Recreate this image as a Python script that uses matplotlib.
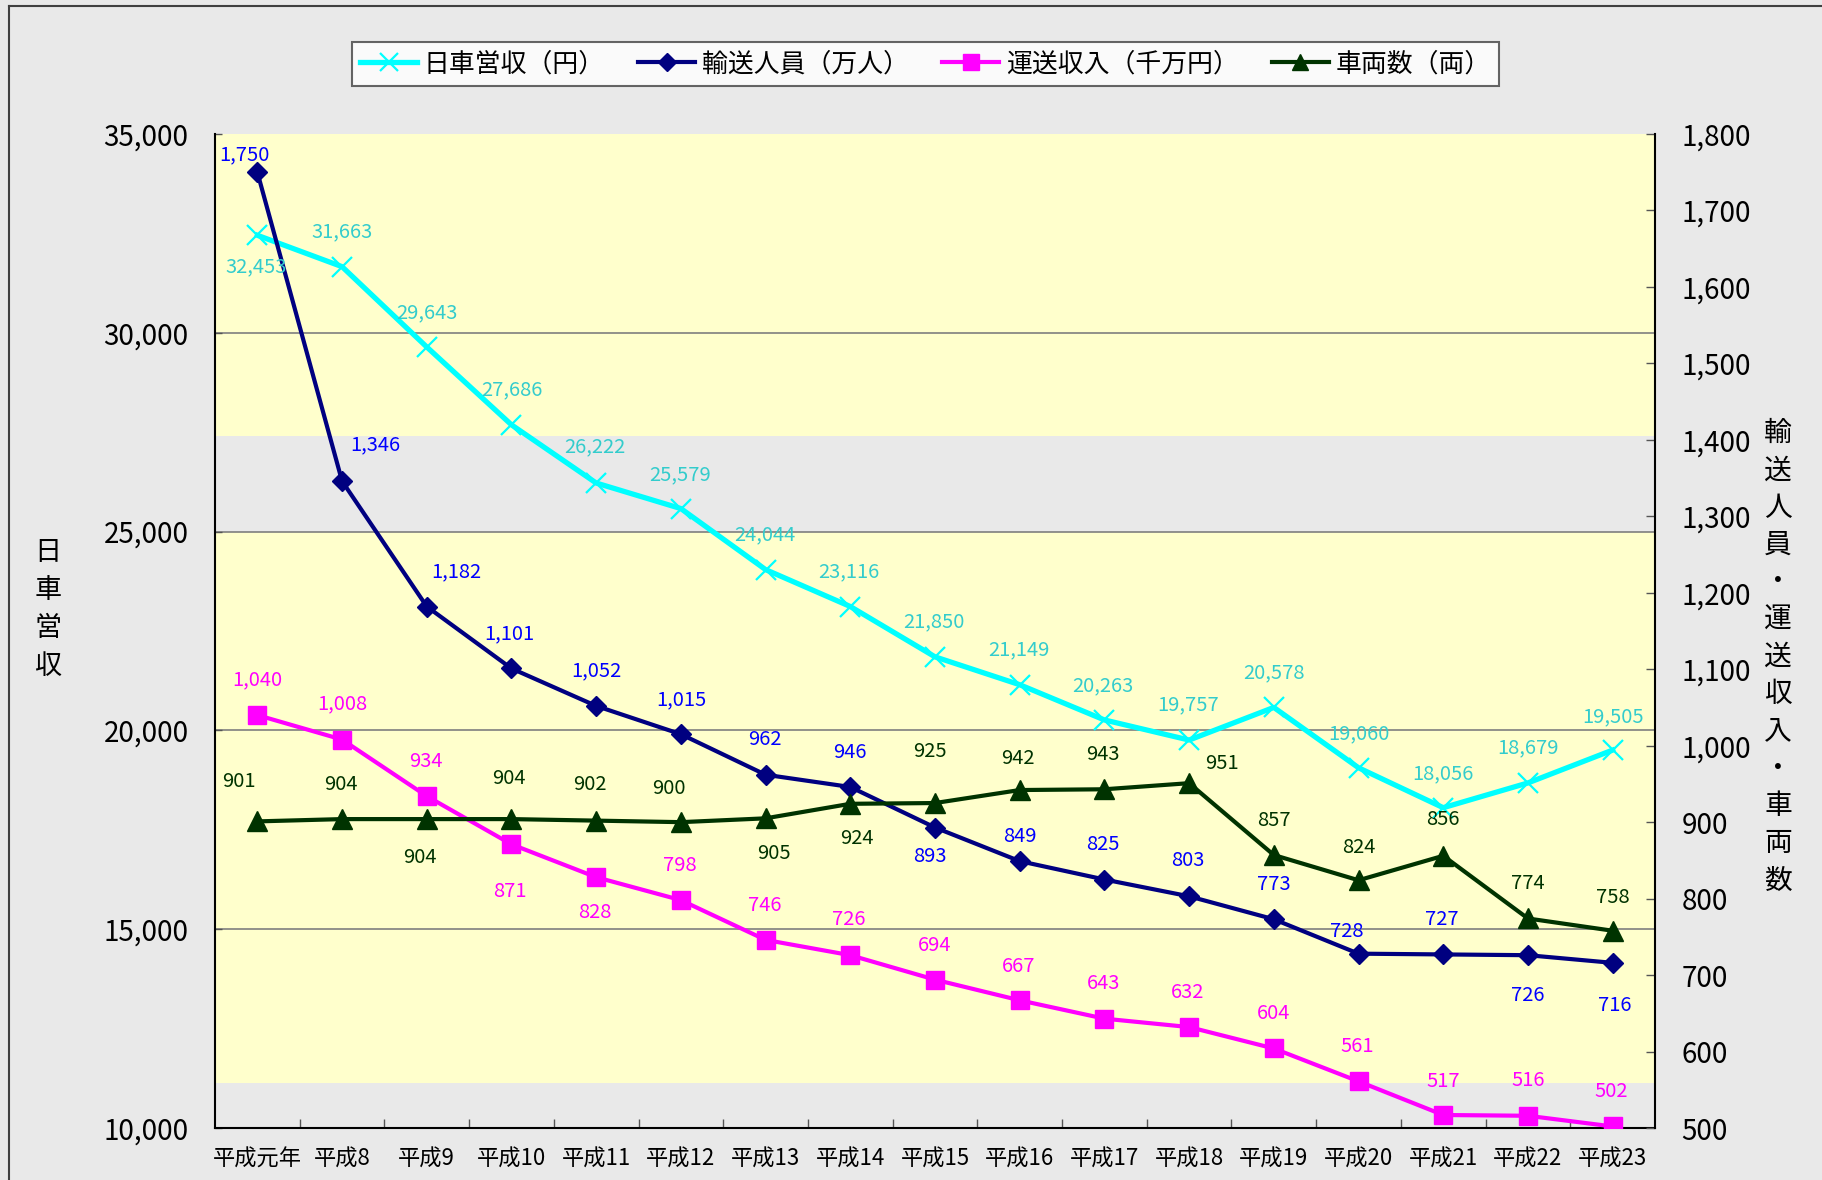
import matplotlib
matplotlib.use("Agg")
import matplotlib.pyplot as plt
from matplotlib.ticker import FuncFormatter, FixedLocator
from matplotlib.lines import Line2D
import numpy as np

plt.rcParams['font.family'] = ['Noto Sans CJK JP', 'DejaVu Sans']

# ---------------- data ----------------
categories = ['平成元年', '平成8', '平成9', '平成10', '平成11', '平成12', '平成13', '平成14',
              '平成15', '平成16', '平成17', '平成18', '平成19', '平成20', '平成21', '平成22', '平成23']
daily_revenue = [32453, 31663, 29643, 27686, 26222, 25579, 24044, 23116, 21850,
                 21149, 20263, 19757, 20578, 19060, 18056, 18679, 19505]
passengers = [1750, 1346, 1182, 1101, 1052, 1015, 962, 946, 893,
              849, 825, 803, 773, 728, 727, 726, 716]
income = [1040, 1008, 934, 871, 828, 798, 746, 726, 694,
          667, 643, 632, 604, 561, 517, 516, 502]
vehicles = [901, 904, 904, 904, 902, 900, 905, 924, 925,
            942, 943, 951, 857, 824, 856, 774, 758]

series_names = ['日車営収（円）', '輸送人員（万人）', '運送収入（千万円）', '車両数（両）']
left_label = '日車営収'
right_label = '輸送人員・運送収入・車両数'

# label offsets (reference px, screen y downward) -- layout only
off_rev = [(-1, 27), (0, -30), (0, -29), (0, -30), (-1, -31), (-1, -29), (-1, -30), (-1, -30), (-1, -30),
           (-1, -30), (-1, -29), (-1, -30), (0, -30), (0, -29), (0, -29), (0, -30), (0, -29)]
off_pas = [(-11, -15), (29, -31), (25, -30), (-2, -30), (0, -30), (0, -30), (-1, -30), (0, -30), (-4, 25),
           (0, -21), (-1, -30), (-1, -31), (0, -30), (-10, -19), (-1, -30), (0, 35), (2, 37)]
off_inc = [(0, -30), (0, -31), (-1, -30), (-1, 41), (-1, 30), (-1, -30), (-1, -30), (-1, -31), (0, -29),
           (-1, -29), (-1, -30), (-1, -30), (0, -30), (-1, -30), (0, -29), (0, -30), (-1, -30)]
off_veh = [(-16, -34), (-1, -30), (-6, 33), (-2, -35), (-5, -31), (-10, -29), (7, 30), (6, 30), (-4, -44),
           (-2, -27), (-1, -30), (28, -17), (0, -30), (0, -28), (0, -31), (0, -30), (0, -29)]

W, H = 1822, 1180
BG = '#e9e9e9'
fig = plt.figure(figsize=(W / 100, H / 100), dpi=100, facecolor=BG)

L, R, T, B = 215, 1655, 134, 1128
ax = fig.add_axes([L / W, 1 - B / H, (R - L) / W, (B - T) / H])
ax.set_facecolor(BG)
ax2 = ax.twinx()
ax2.patch.set_visible(False)

x = np.arange(len(categories))
ax.set_xlim(-0.5, len(categories) - 0.5)
ax.set_ylim(10000, 35000)
ax2.set_ylim(500, 1800)

# background bands (yellow plot area with textured gaps)
ax.axhspan(27412, 35000, color='#ffffcc', zorder=0, lw=0)
ax.axhspan(11131, 25000, color='#ffffcc', zorder=0, lw=0)

# grid lines
for g in [15000, 20000, 25000, 30000]:
    ax.axhline(g, color='#7f7f7f', lw=1.2, zorder=1)

# series
ax.plot(x, daily_revenue, color='#00ffff', lw=3.8, marker='x', ms=15, mew=1.6, zorder=3)
ax2.plot(x, passengers, color='#000080', lw=3.0, marker='D', ms=10.5, zorder=3)
ax2.plot(x, income, color='#ff00ff', lw=3.0, marker='s', ms=13.5, zorder=3)
ax2.plot(x, vehicles, color='#003300', lw=3.0, marker='^', ms=15, zorder=3)

S = 1.162
def labels(axis, trans, vals, offs, color):
    for xi, v, (dx, dy) in zip(x, vals, offs):
        axis.annotate(f'{v:,}', xy=(xi, v), xycoords=trans,
                      xytext=(dx * S, -dy * S), textcoords='offset pixels',
                      ha='center', va='center', fontsize=14.5, color=color, zorder=10,
                      annotation_clip=False)

labels(ax2, ax.transData, daily_revenue, off_rev, '#33cccc')
labels(ax2, ax2.transData, passengers, off_pas, '#0000ff')
labels(ax2, ax2.transData, income, off_inc, '#ff00ff')
labels(ax2, ax2.transData, vehicles, off_veh, '#003300')

# axes / spines
fmt = FuncFormatter(lambda v, p: f'{v:,.0f}')
ax.yaxis.set_major_locator(FixedLocator(np.arange(10000, 35001, 5000)))
ax.yaxis.set_major_formatter(fmt)
ax2.yaxis.set_major_locator(FixedLocator(np.arange(500, 1801, 100)))
ax2.yaxis.set_major_formatter(fmt)

ax.set_xticks(x)
ax.set_xticklabels(categories)
ax.set_xticks(np.arange(0.5, len(categories) - 1, 1), minor=True)
ax.tick_params(axis='x', which='major', length=0, pad=14, labelsize=16)
ax.tick_params(axis='x', which='minor', direction='in', length=6.5, width=1, color='#555555')
ax.tick_params(axis='y', direction='in', length=5, width=1, pad=19, labelsize=20, color='#555555')
ax2.tick_params(axis='y', direction='in', length=6.5, width=1, pad=19, labelsize=20, color='#555555')

for a in (ax, ax2):
    a.spines['top'].set_visible(False)
    for s in ('left', 'right', 'bottom'):
        a.spines[s].set_color('black')
        a.spines[s].set_linewidth(1.5)
ax.spines['right'].set_visible(False)
ax2.spines['left'].set_visible(False)
ax2.spines['bottom'].set_visible(False)

# axis titles (vertical stacked)
for i, ch in enumerate(left_label):
    fig.text(48 / W, 1 - (553 + 38 * i) / H, ch, ha='center', va='center', fontsize=19.5)
for i, ch in enumerate(right_label):
    fig.text(1778 / W, 1 - (433 + 37.3 * i) / H, ch, ha='center', va='center', fontsize=20)

# legend
handles = [
    Line2D([], [], color='#00ffff', lw=3.8, marker='x', ms=13, mew=1.6),
    Line2D([], [], color='#000080', lw=3.0, marker='D', ms=9),
    Line2D([], [], color='#ff00ff', lw=3.0, marker='s', ms=12),
    Line2D([], [], color='#003300', lw=3.0, marker='^', ms=12),
]
leg = fig.legend(handles, series_names, loc='center', bbox_to_anchor=(925.5 / W, 1 - 64 / H),
                 ncol=4, fontsize=18.6, frameon=True, fancybox=False, handlelength=2.2,
                 handletextpad=0.25, columnspacing=1.3, borderpad=0.33)
leg.get_frame().set_edgecolor('#404040')
leg.get_frame().set_linewidth(1.5)
leg.get_frame().set_facecolor('white')

# outer border (left & top)
fig.add_artist(Line2D([9 / W, 9 / W], [0, 1 - 6 / H], color='#404040', lw=1.5, transform=fig.transFigure))
fig.add_artist(Line2D([9 / W, 1], [1 - 6 / H, 1 - 6 / H], color='#404040', lw=1.5, transform=fig.transFigure))

fig.savefig('out.png', dpi=100, facecolor=BG)
